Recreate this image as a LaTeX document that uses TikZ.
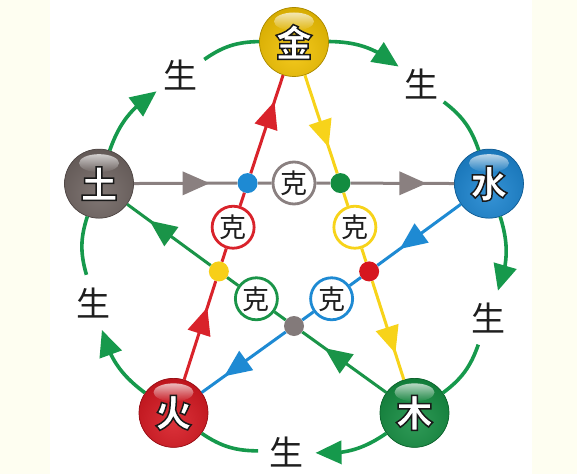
\documentclass[tikz,border=0pt]{standalone}
\usepackage{fontspec}
\newfontfamily\cjk{Noto Sans CJK SC}
\newfontfamily\cjkout[FakeBold=4]{Noto Sans CJK SC}
\newcommand\outl[1]{\special{pdf:bcolor [1 1 1] [0.1 0.1 0.1]}#1\special{pdf:ecolor}}
\usetikzlibrary{arrows.meta, bending, decorations.markings, fadings}
\definecolor{jincol}{HTML}{F2C200}
\definecolor{shuicol}{HTML}{1A84D0}
\definecolor{mucol}{HTML}{138C40}
\definecolor{huocol}{HTML}{D6161F}
\definecolor{tucol}{HTML}{6F6461}
\definecolor{shenggreen}{HTML}{16994C}
\definecolor{kred}{HTML}{D9232B}
\definecolor{kyellow}{HTML}{F7D31A}
\definecolor{kgray}{HTML}{8A8080}
\definecolor{kblue}{HTML}{1E8AD3}
\definecolor{kgreen}{HTML}{1A9448}
\definecolor{bgcream}{HTML}{FEFEF1}
\definecolor{ink}{HTML}{1E1E1E}

\begin{document}
\begin{tikzpicture}[
   x=1pt, y=1pt,
   elem/.style={
     circle,
     fill=#1,
     draw=#1!70!black,
     line width=.7pt,
     inner sep=0pt,
     minimum size=69pt,
     text=white,
     font=\cjkout\bfseries\fontsize{37}{37}\selectfont,
     path picture={
       \shade[inner color=#1!88!white, outer color=#1!88!black]
         ([yshift=-10pt]path picture bounding box.center) circle (46pt);
       \fill[white, path fading=south, fill opacity=.7]
         ([yshift=-14pt]path picture bounding box.north) ellipse (20pt and 9pt);
     },
    },
   ke/.style={
     circle,
     fill=white,
     draw=#1,
     line width=2.8pt,
     inner sep=0pt,
     minimum size=42pt,
     text=ink,
     font=\cjk\fontsize{27}{27}\selectfont,
    },
   sh/.style={
     circle,
     inner sep=0pt,
     minimum size=57pt,
     text=ink,
     font=\cjk\fontsize{34}{34}\selectfont,
    },
   dot/.style={
     circle,
     fill=#1,
     inner sep=0pt,
     minimum size=20pt,
     draw=none,
    },
   sheng/.style={
     draw=shenggreen,
     line width=3.6pt,
    },
   kline/.style={
     draw=#1,
     line width=3pt,
    },
   kearrow/.style={
     kline=#1,
     postaction={decorate},
     decoration={markings,
       mark=at position .5 with {\fill[#1] (-3pt,12pt) -- (24pt,0) -- (-3pt,-12pt) -- cycle;}},
    },
  ]

\useasboundingbox (-294,-227) rectangle (283,247);
\fill[bgcream] (-294,-227) rectangle (283,247);
\fill[white] (-244,-227) rectangle (238,247);

\node[elem=jincol] (J) at (90:205) {\outl{金}};
\node[elem=shuicol] (S) at (18:205) {\outl{水}};
\node[elem=mucol] (M) at (-54:205) {\outl{木}};
\node[elem=huocol] (H) at (-126:205) {\outl{火}};
\node[elem=tucol] (T) at (162:205) {\outl{土}};

\node[sh] (JS) at (52:207) {生};
\node[sh] (SM) at (-20:207) {生};
\node[sh] (MH) at (-92:205) {生};
\node[sh] (HT) at (195.5:208) {生};
\node[sh] (TJ) at (123.5:206) {生};

\draw[sheng, -{Triangle[length=26pt,width=23pt]}] (J) to[bend left=19] (JS);
\draw[sheng] (JS) to[bend left=17] (S);
\draw[sheng, -{Triangle[length=26pt,width=23pt]}] (S) to[bend left=19] (SM);
\draw[sheng] (SM) to[bend left=17] (M);
\draw[sheng, -{Triangle[length=26pt,width=23pt]}] (M) to[bend left=19] (MH);
\draw[sheng] (MH) to[bend left=17] (H);
\draw[sheng, -{Triangle[length=26pt,width=23pt]}] (H) to[bend left=19] (HT);
\draw[sheng] (HT) to[bend left=17] (T);
\draw[sheng, -{Triangle[length=26pt,width=23pt]}] (T) to[bend left=19] (TJ);
\draw[sheng] (TJ) to[bend left=17] (J);

\node[dot=kblue] (dBl) at (126:79) {};
\node[dot=mucol] (dGr) at (54:79) {};
\node[dot=kyellow!95!orange] (dYe) at (198:79) {};
\node[dot=huocol] (dRe) at (-18:79) {};
\node[dot=kgray!95!black] (dGy) at (-90:79) {};

\node[ke=kgray] (kTS) at (90:64) {克};
\node[ke=kred] (kHJ) at (162:64) {克};
\node[ke=kyellow] (kJM) at (18:64) {克};
\node[ke=kblue] (kSH) at (-54:64) {克};
\node[ke=kgreen] (kMT) at (-126:64) {克};

\draw[kearrow=kgray] (T) -- (dBl);
\draw[kline=kgray] (dBl) -- (kTS) -- (dGr);
\draw[kearrow=kgray] (dGr) -- (S);
\draw[kearrow=kred] (H) -- (dYe);
\draw[kline=kred] (dYe) -- (kHJ) -- (dBl);
\draw[kearrow=kred] (dBl) -- (J);
\draw[kearrow=kyellow] (J) -- (dGr);
\draw[kline=kyellow] (dGr) -- (kJM) -- (dRe);
\draw[kearrow=kyellow] (dRe) -- (M);
\draw[kearrow=kblue] (S) -- (dRe);
\draw[kline=kblue] (dRe) -- (kSH) -- (dGy);
\draw[kearrow=kblue] (dGy) -- (H);
\draw[kearrow=kgreen] (M) -- (dGy);
\draw[kline=kgreen] (dGy) -- (kMT) -- (dYe);
\draw[kearrow=kgreen] (dYe) -- (T);
\end{tikzpicture}
\end{document}
